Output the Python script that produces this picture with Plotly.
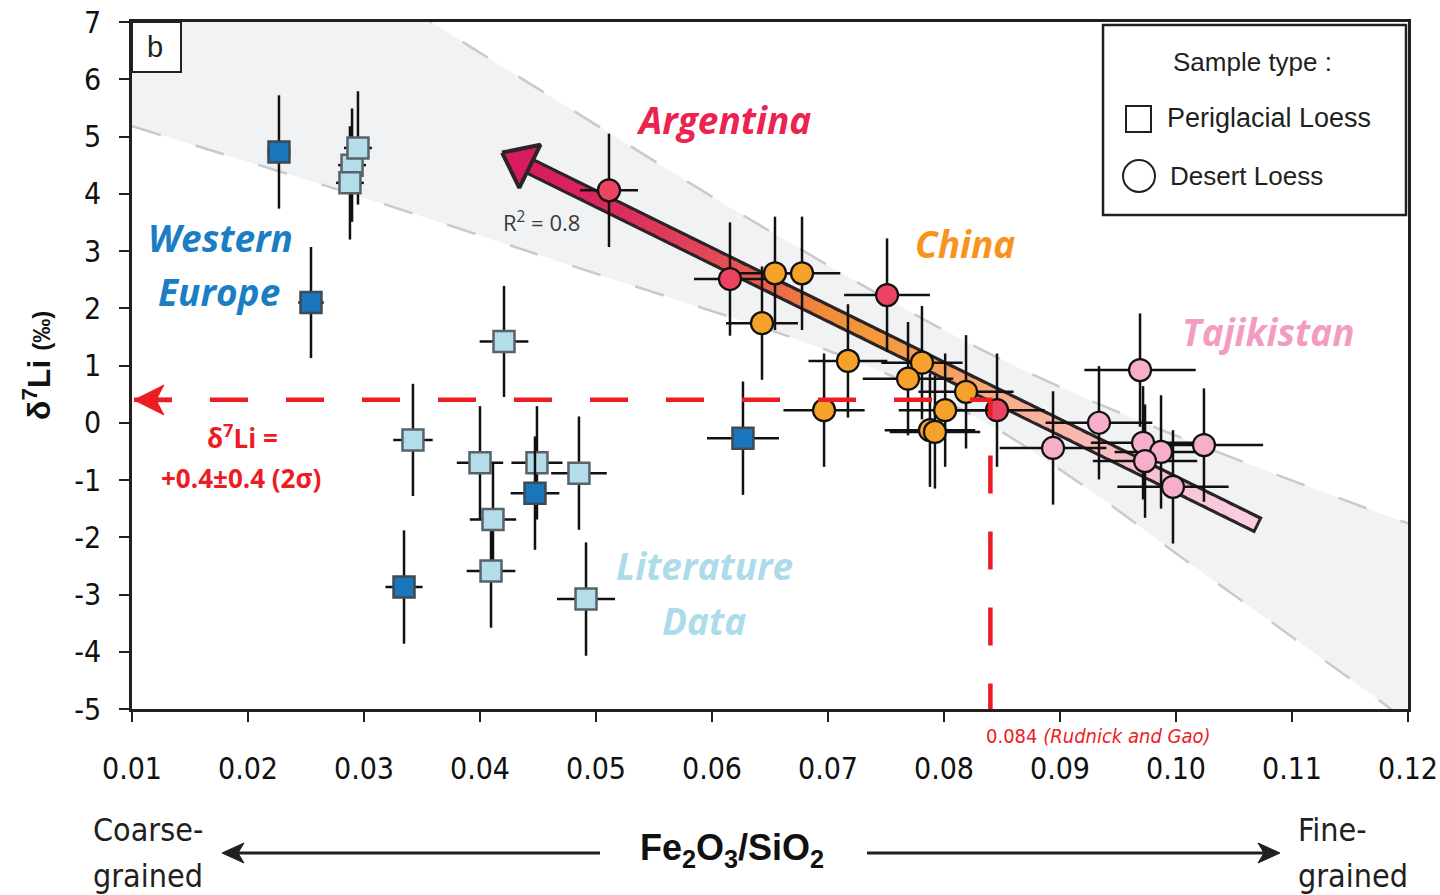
import numpy as np
import plotly.graph_objects as go

# ------------------------------------------------------------------ data
# Periglacial loess - Western Europe (dark blue squares)
we_x = [0.02267, 0.02543, 0.03345, 0.04474, 0.06267]
we_y = [4.73, 2.10, -2.87, -1.23, -0.27]
we_ex = [0.0010, 0.0011, 0.0016, 0.0021, 0.0031]
we_ey = [0.99, 0.97, 0.99, 0.99, 0.99]

# Periglacial loess - literature data (light blue squares)
lit_x = [0.02897, 0.02948, 0.02879, 0.04207, 0.03422, 0.04000, 0.04112, 0.04095, 0.04491, 0.04853, 0.04914]
lit_y = [4.50, 4.80, 4.19, 1.42, -0.30, -0.70, -1.69, -2.59, -0.70, -0.88, -3.08]
lit_ex = [0.0012, 0.0012, 0.0012, 0.0021, 0.0017, 0.0020, 0.0020, 0.0021, 0.0022, 0.0024, 0.0025]
lit_ey = [0.99, 0.99, 0.99, 0.97, 0.98, 0.99, 0.99, 0.99, 0.99, 0.99, 0.99]

# Desert loess - Argentina
arg_x = [0.05112, 0.06155, 0.07509, 0.08457]
arg_y = [4.06, 2.51, 2.23, 0.22]
arg_ex = [0.0025, 0.0031, 0.0037, 0.0041]
arg_ey = [0.99, 0.99, 0.99, 0.99]

# Desert loess - China
chn_x = [0.06543, 0.06776, 0.06431, 0.07172, 0.06966, 0.07810, 0.07690, 0.08190, 0.08010, 0.07879, 0.07922]
chn_y = [2.61, 2.61, 1.74, 1.08, 0.22, 1.05, 0.77, 0.54, 0.22, -0.13, -0.16]
chn_ex = [0.0030, 0.0033, 0.0031, 0.0034, 0.0035, 0.0035, 0.0039, 0.0041, 0.0040, 0.0039, 0.0039]
chn_ey = [0.99] * 11

# Desert loess - Tajikistan
taj_x = [0.09690, 0.09336, 0.08940, 0.09716, 0.09871, 0.09733, 0.10241, 0.09974]
taj_y = [0.92, 0.00, -0.44, -0.35, -0.51, -0.67, -0.39, -1.12]
taj_ex = [0.0048, 0.0046, 0.0046, 0.0045, 0.0040, 0.0045, 0.0051, 0.0048]
taj_ey = [0.99] * 8

# regression (trend arrow: tail -> head base) and its confidence band
trend_x = [0.1069, 0.0443]
trend_y = [-1.77, 4.48]
band_up_x = [0.0100, 0.02448, 0.03595, 0.04750, 0.06009, 0.06672, 0.07448, 0.08310, 0.09172, 0.10319, 0.11991, 0.1210]
band_up_y = [10.46, 8.49, 6.98, 5.52, 3.94, 3.14, 2.23, 1.29, 0.47, -0.48, -1.75, -1.82]
band_lo_x = [0.0100, 0.02336, 0.03310, 0.04198, 0.04750, 0.05724, 0.06672, 0.07534, 0.08397, 0.09259, 0.10034, 0.10897, 0.11819, 0.1210]
band_lo_y = [5.18, 4.35, 3.73, 3.14, 2.77, 2.13, 1.50, 0.83, -0.04, -1.18, -2.33, -3.59, -4.95, -5.40]

# crustal reference values
ref_fe = 0.084
ref_li = 0.4

x_ticks = [0.01, 0.02, 0.03, 0.04, 0.05, 0.06, 0.07, 0.08, 0.09, 0.10, 0.11, 0.12]
x_ticktext = ["0.01", "0.02", "0.03", "0.04", "0.05", "0.06", "0.07", "0.08", "0.09", "0.10", "0.11", "0.12"]
y_ticks = [-5, -4, -3, -2, -1, 0, 1, 2, 3, 4, 5, 6, 7]
y_ticktext = ["-5", "-4", "-3", "-2", "-1", "0", "1", "2", "3", "4", "5", "6", "7"]

# ------------------------------------------------------------------ layout geometry
W, H = 1440, 895
L, R, T, B = 132, 1408, 22, 709
XR = [0.01, 0.12]
YR = [-5, 7]
sx = (XR[1] - XR[0]) / (R - L)   # data per px
sy = (YR[1] - YR[0]) / (B - T)


def pxp(x):
    return (x - L) / (R - L)


def pyp(y):
    return (B - y) / (B - T)


NARROW = "Liberation Sans Narrow, DejaVu Sans Condensed, Liberation Sans, Arial"
SANS = "Liberation Sans, Arial"
HUM = "Open Sans, Noto Sans, Liberation Sans"

fig = go.Figure()

# confidence band
fig.add_trace(go.Scatter(x=band_lo_x, y=band_lo_y, mode="lines",
                         line=dict(color="#cacaca", width=2.5, dash="30px,36px", shape="spline"),
                         hoverinfo="skip", showlegend=False))
fig.add_trace(go.Scatter(x=band_up_x, y=band_up_y, mode="lines", fill="tonexty",
                         fillcolor="#f1f2f4",
                         line=dict(color="#cacaca", width=2.5, dash="30px,36px", shape="spline"),
                         hoverinfo="skip", showlegend=False))

# ------------------------------------------------------------------ gradient trend arrow
x0, y0 = trend_x[0], trend_y[0]
x1, y1 = trend_x[1], trend_y[1]
dxp = (x1 - x0) / sx
dyp = -(y1 - y0) / sy
ln = np.hypot(dxp, dyp)
ux, uy = dxp / ln, dyp / ln          # screen unit vector (y down)
nx, ny = -uy, ux


def to_data(x, y, ax, ay):
    # offset (ax, ay) in screen px from data point (x, y)
    return x + ax * sx, y - ay * sy


# dark outline of the shaft (slightly extended at the tail)
tx, ty = to_data(x0, y0, -3 * ux, -3 * uy)
fig.add_trace(go.Scatter(x=[tx, x1], y=[ty, y1], mode="lines",
                         line=dict(color="#2b2326", width=18), hoverinfo="skip", showlegend=False))

stops = [(0.00, "#f8d0e2"), (0.15, "#f6c2d3"), (0.28, "#f8b6a6"), (0.36, "#f8ab86"),
         (0.43, "#f6a05c"), (0.52, "#f39a3c"), (0.60, "#f08c3a"), (0.68, "#e8604a"),
         (0.77, "#e04656"), (0.88, "#da2d5d"), (1.00, "#d81b5f")]


def hex2rgb(h):
    h = h.lstrip("#")
    return np.array([int(h[i:i + 2], 16) for i in (0, 2, 4)], dtype=float)


def grad(t):
    for (ta, ca), (tb, cb) in zip(stops[:-1], stops[1:]):
        if ta <= t <= tb:
            f = (t - ta) / (tb - ta)
            c = hex2rgb(ca) * (1 - f) + hex2rgb(cb) * f
            return "rgb(%d,%d,%d)" % tuple(c.round())
    return stops[-1][1]


N = 70
ts = np.linspace(0, 1, N + 1)
for i in range(N):
    ta, tb = ts[i], min(1.0, ts[i + 1] + 0.006)
    xa, ya = x0 + (x1 - x0) * ta, y0 + (y1 - y0) * ta
    xb, yb = x0 + (x1 - x0) * tb, y0 + (y1 - y0) * tb
    fig.add_trace(go.Scatter(x=[xa, xb], y=[ya, yb], mode="lines",
                             line=dict(color=grad((ta + tb) / 2), width=11.5),
                             hoverinfo="skip", showlegend=False))

# arrow head
hx, hy = [], []
for ax_, ay_ in [(31 * ux, 31 * uy), (24 * nx, 24 * ny), (-24 * nx, -24 * ny)]:
    a, b = to_data(x1, y1, ax_, ay_)
    hx.append(a)
    hy.append(b)
hx.append(hx[0])
hy.append(hy[0])
fig.add_trace(go.Scatter(x=hx, y=hy, mode="lines", fill="toself", fillcolor="#d81b5f",
                         line=dict(color="#2b2326", width=4), hoverinfo="skip", showlegend=False))


# ------------------------------------------------------------------ samples
def err(arr):
    return dict(type="data", array=arr, visible=True, color="#111111", thickness=2.5, width=0)


def add_pts(x, y, ex, ey, symbol, fill, edge, size, ew):
    fig.add_trace(go.Scatter(x=x, y=y, mode="markers",
                             error_x=err(ex), error_y=err(ey),
                             marker=dict(symbol=symbol, size=size, color=fill,
                                         line=dict(color=edge, width=ew)),
                             showlegend=False))


add_pts(lit_x, lit_y, lit_ex, lit_ey, "square", "#b3dde9", "#58626a", 21, 2.5)
add_pts(we_x, we_y, we_ex, we_ey, "square", "#1b75bb", "#3f4a52", 21, 2.5)
add_pts(arg_x, arg_y, arg_ex, arg_ey, "circle", "#eb4462", "#111111", 22, 2.2)
add_pts(chn_x, chn_y, chn_ex, chn_ey, "circle", "#f5a12a", "#111111", 22, 2.2)
add_pts(taj_x, taj_y, taj_ex, taj_ey, "circle", "#f5afca", "#111111", 22, 2.2)

# red reference lines (on top)
xl_start = XR[0] + 2 * sx
fig.add_trace(go.Scatter(x=[xl_start, ref_fe, ref_fe], y=[ref_li, ref_li, YR[0]], mode="lines",
                         line=dict(color="#ed1c24", width=4.5, dash="38px,38px"),
                         hoverinfo="skip", showlegend=False))

# ------------------------------------------------------------------ shapes
shapes = []
# panel label box
shapes.append(dict(type="rect", xref="paper", yref="paper", x0=pxp(132), x1=pxp(181), y0=pyp(72), y1=pyp(22),
                   line=dict(color="#231f20", width=2), fillcolor="white", layer="above"))
# legend box
shapes.append(dict(type="rect", xref="paper", yref="paper", x0=pxp(1103), x1=pxp(1406), y0=pyp(215), y1=pyp(25),
                   line=dict(color="#231f20", width=2.5), fillcolor="white", layer="above"))
shapes.append(dict(type="rect", xref="paper", yref="paper", x0=pxp(1126), x1=pxp(1151), y0=pyp(132), y1=pyp(106),
                   line=dict(color="#231f20", width=2), fillcolor="white", layer="above"))
shapes.append(dict(type="circle", xref="paper", yref="paper", x0=pxp(1123), x1=pxp(1155), y0=pyp(192), y1=pyp(160),
                   line=dict(color="#231f20", width=2), fillcolor="white", layer="above"))


def arrow_shape(xt, yt, xs, ys, color, width, hl, hw, notch):
    # straight arrow from (xs, ys) to tip (xt, yt), all in screen px
    d = np.hypot(xt - xs, yt - ys)
    ex_, ey_ = (xt - xs) / d, (yt - ys) / d
    px_, py_ = -ey_, ex_
    bx, by = xt - hl * ex_, yt - hl * ey_
    nxp, nyp = xt - (hl - notch) * ex_, yt - (hl - notch) * ey_
    shapes.append(dict(type="line", xref="paper", yref="paper", x0=pxp(xs), y0=pyp(ys),
                       x1=pxp(nxp), y1=pyp(nyp), line=dict(color=color, width=width), layer="above"))
    pts = [(xt, yt), (bx + hw * px_, by + hw * py_), (nxp, nyp), (bx - hw * px_, by - hw * py_)]
    path = "M " + " L ".join("%.5f,%.5f" % (pxp(a), pyp(b)) for a, b in pts) + " Z"
    shapes.append(dict(type="path", xref="paper", yref="paper", path=path, fillcolor=color,
                       line=dict(color=color, width=1), layer="above"))


arrow_shape(134, 400, 172, 400, "#ed1c24", 4.5, 30, 15, 8)
arrow_shape(222, 853, 600, 853, "#231f20", 3, 22, 10, 6)
arrow_shape(1280, 853, 867, 853, "#231f20", 3, 22, 10, 6)

# ------------------------------------------------------------------ annotations
ann = []


def txt(x, y, s, size, color, family=HUM, xanchor="center", yanchor="middle"):
    ann.append(dict(x=pxp(x), y=pyp(y), xref="paper", yref="paper", text=s, showarrow=False,
                    font=dict(size=size, color=color, family=family), xanchor=xanchor, yanchor=yanchor))


txt(155, 47, "b", 29, "#231f20", SANS)
txt(220, 237, "<b><i>Western</i></b>", 37, "#1b7dc3")
txt(219, 291, "<b><i>Europe</i></b>", 37, "#1b7dc3")
txt(723, 120, "<b><i>Argentina</i></b>", 37, "#ea2351")
txt(965, 243, "<b><i>China</i></b>", 37, "#f7941d")
txt(1268, 331, "<b><i>Tajikistan</i></b>", 37, "#f39cc1")
txt(704, 565, "<b><i>Literature</i></b>", 37, "#acdcea")
txt(704, 620, "<b><i>Data</i></b>", 37, "#acdcea")
txt(541, 222, "R<sup>2</sup> = 0.8", 22, "#3a3a3a")
txt(242, 437, "<b>δ<sup>7</sup>Li =</b>", 26, "#ed1c24", HUM)
txt(241, 478, "<b>+0.4±0.4 (2σ)</b>", 26, "#ed1c24", HUM)
txt(1098, 736, "0.084 <i>(Rudnick and Gao)</i>", 20, "#ed1c24", NARROW)
txt(1252, 62, "Sample type :", 26, "#231f20", SANS)
txt(1165, 118, "Periglacial Loess", 27, "#231f20", SANS, xanchor="left")
txt(1168, 176, "Desert Loess", 26, "#231f20", SANS, xanchor="left")
txt(732, 850, "<b>Fe<sub>2</sub>O<sub>3</sub>/SiO<sub>2</sub></b>", 36, "#111111", SANS)
txt(91, 830, "Coarse-", 32, "#231f20", NARROW, xanchor="left")
txt(91, 876, "grained", 32, "#231f20", NARROW, xanchor="left")
txt(1296, 830, "Fine-", 32, "#231f20", NARROW, xanchor="left")
txt(1296, 876, "grained", 32, "#231f20", NARROW, xanchor="left")
ann.append(dict(x=pxp(37), y=pyp(366), xref="paper", yref="paper", showarrow=False, textangle=-90,
                text="<b>δ<sup>7</sup>Li <span style='font-size:24px'>(‰)</span></b>",
                font=dict(size=32, color="#111111", family=SANS), xanchor="center", yanchor="middle"))

fig.update_layout(
    width=W, height=H,
    margin=dict(l=L, r=W - R, t=T, b=H - B, pad=0, autoexpand=False),
    paper_bgcolor="white", plot_bgcolor="white",
    showlegend=False,
    shapes=shapes, annotations=ann,
    xaxis=dict(range=XR, tickvals=x_ticks, ticktext=x_ticktext, ticks="outside", ticklen=10, tickwidth=2,
               tickcolor="#231f20", showline=True, linewidth=2.5, linecolor="#231f20", mirror=True,
               showgrid=False, zeroline=False, ticklabelstandoff=21, automargin=False,
               tickfont=dict(size=30, family=NARROW, color="#111111")),
    yaxis=dict(range=YR, tickvals=y_ticks, ticktext=y_ticktext, ticks="outside", ticklen=10, tickwidth=2,
               tickcolor="#231f20", showline=True, linewidth=2.5, linecolor="#231f20", mirror=True,
               showgrid=False, zeroline=False, ticklabelstandoff=12, automargin=False,
               tickfont=dict(size=30, family=NARROW, color="#111111")),
)

fig.write_html("out.html")
